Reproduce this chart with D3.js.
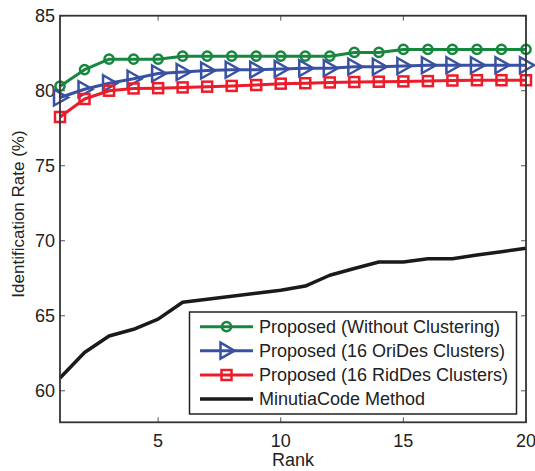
<!DOCTYPE html>
<html><head><meta charset="utf-8">
<script src="https://cdn.jsdelivr.net/npm/d3@7"></script>
<style>body{margin:0;background:#fff}svg{display:block}text{font-family:"Liberation Sans",Arial,sans-serif;fill:#222}</style>
</head><body><svg id="c" width="535" height="471"></svg>
<script>
const ranks = d3.range(1, 21);
const withoutClustering = [80.3,81.4,82.1,82.1,82.1,82.3,82.3,82.3,82.3,82.3,82.3,82.3,82.55,82.55,82.75,82.75,82.75,82.75,82.75,82.75];
const oriDes16 = [79.55,80.1,80.5,80.8,81.15,81.25,81.35,81.4,81.4,81.45,81.5,81.5,81.6,81.6,81.65,81.7,81.7,81.7,81.7,81.7];
const ridDes16 = [78.25,79.45,80.0,80.15,80.17,80.22,80.27,80.32,80.38,80.47,80.5,80.55,80.58,80.6,80.62,80.64,80.68,80.7,80.7,80.7];
const minutiaCode = [60.85,62.55,63.65,64.1,64.78,65.9,66.1,66.3,66.5,66.7,66.98,67.7,68.15,68.58,68.58,68.8,68.8,69.05,69.27,69.5];
const seriesNames = ["Proposed (Without Clustering)","Proposed (16 OriDes Clusters)","Proposed (16 RidDes Clusters)","MinutiaCode Method"];
const seriesColors = ["#17873f","#3851a3","#ec1c2a","#1a1a1a"];
const seriesMarkers = ["circle","triangle","square","none"];
const seriesValues = [withoutClustering, oriDes16, ridDes16, minutiaCode];
const xTicks = [5,10,15,20];
const yTicks = [60,65,70,75,80,85];

const svg = d3.select("#c");
const L=60, R=526, T=15.7, B=422.3;
const x = d3.scaleLinear().domain([1,20]).range([L,R]);
const y = d3.scaleLinear().domain([57.9,85]).range([B,T]);

const g = svg.append("g");
const tickLen = 5;
xTicks.forEach(t=>{
  g.append("line").attr("x1",x(t)).attr("x2",x(t)).attr("y1",B).attr("y2",B-tickLen).attr("stroke","#555").attr("stroke-width",1);
  g.append("line").attr("x1",x(t)).attr("x2",x(t)).attr("y1",T).attr("y2",T+tickLen).attr("stroke","#555").attr("stroke-width",1);
  g.append("text").attr("x",x(t)).attr("y",447).attr("text-anchor","middle").attr("font-size",18).text(t);
});
yTicks.forEach(t=>{
  g.append("line").attr("x1",L).attr("x2",L+tickLen).attr("y1",y(t)).attr("y2",y(t)).attr("stroke","#555").attr("stroke-width",1);
  g.append("line").attr("x1",R).attr("x2",R-tickLen).attr("y1",y(t)).attr("y2",y(t)).attr("stroke","#555").attr("stroke-width",1);
  g.append("text").attr("x",55).attr("y",y(t)).attr("dy","0.36em").attr("text-anchor","end").attr("font-size",18).text(t);
});

const line = d3.line().x((d,i)=>x(ranks[i])).y(d=>y(d));
function marker(sel, type, color){
  if(type==="circle") sel.append("circle").attr("r",4.6).attr("fill","none").attr("stroke",color).attr("stroke-width",2.5);
  else if(type==="triangle") sel.append("path").attr("d","M-6,-8L8,0L-6,8Z").attr("fill","none").attr("stroke",color).attr("stroke-width",2.5);
  else if(type==="square") sel.append("rect").attr("x",-5).attr("y",-5).attr("width",10).attr("height",10).attr("fill","none").attr("stroke",color).attr("stroke-width",2.5);
}
const plot = svg.append("g");
seriesValues.forEach((vals,si)=>{
  plot.append("path").datum(vals).attr("d",line).attr("fill","none").attr("stroke",seriesColors[si]).attr("stroke-width",si===3?3.5:3).attr("stroke-linejoin","round");
  if(seriesMarkers[si]!=="none"){
    vals.forEach((v,i)=>{
      const m = plot.append("g").attr("transform",`translate(${x(ranks[i])},${y(v)})`);
      marker(m, seriesMarkers[si], seriesColors[si]);
    });
  }
});

svg.append("rect").attr("x",L).attr("y",T).attr("width",R-L).attr("height",B-T).attr("fill","none").attr("stroke","#333").attr("stroke-width",1.8);

const lg = svg.append("g");
lg.append("rect").attr("x",189.5).attr("y",312).attr("width",327).attr("height",102).attr("fill","#fff").attr("stroke","#222").attr("stroke-width",1.5);
const rowsY=[326.7,350.7,375,399];
seriesNames.forEach((n,i)=>{
  lg.append("line").attr("x1",200).attr("x2",253).attr("y1",rowsY[i]).attr("y2",rowsY[i]).attr("stroke",seriesColors[i]).attr("stroke-width",i===3?3.5:3);
  if(seriesMarkers[i]!=="none"){
    const m = lg.append("g").attr("transform",`translate(226.5,${rowsY[i]})`);
    marker(m, seriesMarkers[i], seriesColors[i]);
  }
  lg.append("text").attr("x",259).attr("y",rowsY[i]).attr("dy","0.36em").attr("font-size",18).text(n);
});

svg.append("text").attr("x",293).attr("y",466).attr("text-anchor","middle").attr("font-size",18).text("Rank");
svg.append("text").attr("transform","translate(24,214) rotate(-90)").attr("text-anchor","middle").attr("font-size",17).text("Identification Rate (%)");
</script></body></html>
